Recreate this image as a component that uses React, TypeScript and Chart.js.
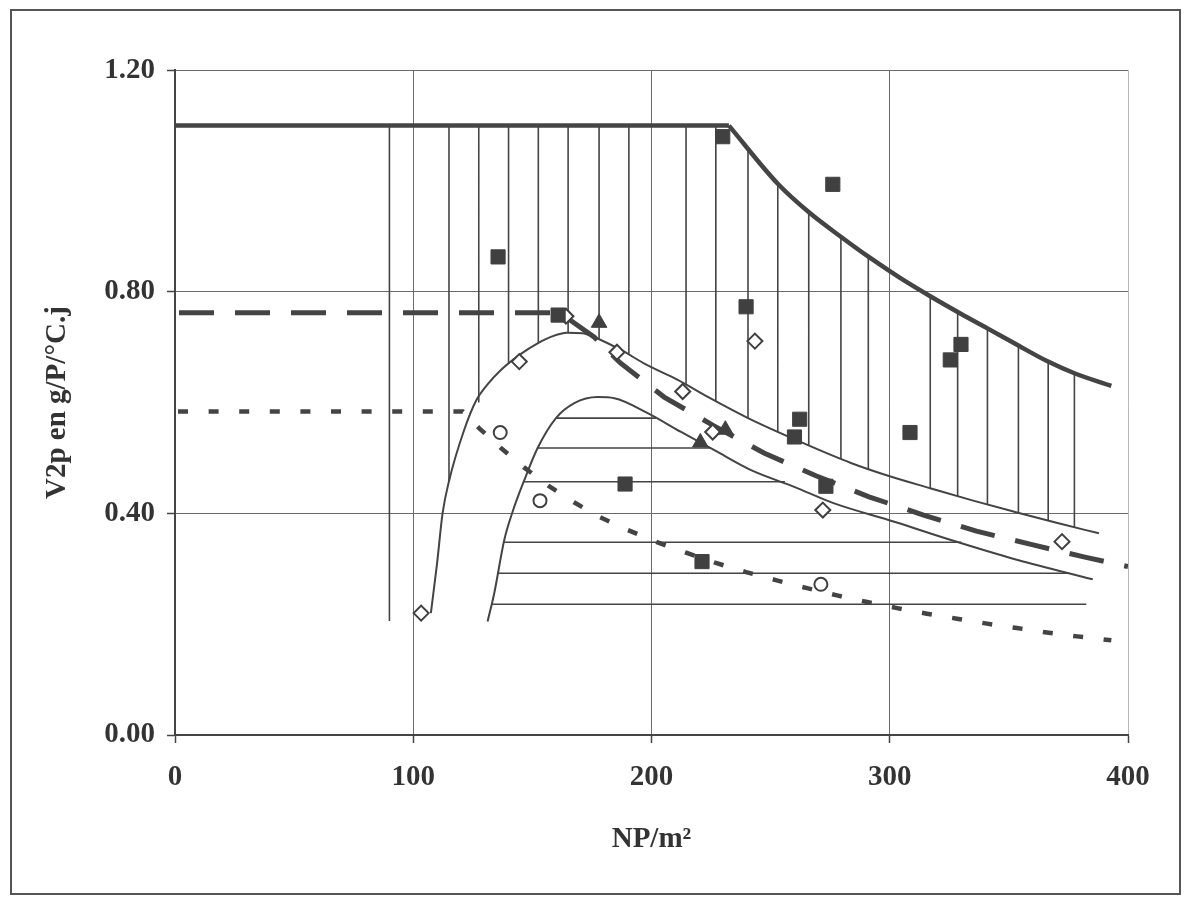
import React, { useEffect, useRef } from 'react';
import { Chart, registerables } from 'chart.js';

Chart.register(...registerables);

// ---- axes ----
const xTickValues = [0, 100, 200, 300, 400];
const xTickLabels = ['0', '100', '200', '300', '400'];
const yTickValues = [0, 0.4, 0.8, 1.2];
const yTickLabels = ['0.00', '0.40', '0.80', '1.20'];
const xTitle = 'NP/m²';
const yTitle = 'V2p en g/P/°C.j';

// ---- upper envelope (thick solid): plateau then decline ----
const plateauX = [0, 232.5];
const plateauY = [1.1, 1.1];
const declineX = [232.5, 253, 266.2, 279.6, 291.5, 304, 317, 330, 341, 354, 366, 377.5, 393];
const declineY = [1.1, 0.995, 0.943, 0.899, 0.862, 0.826, 0.792, 0.76, 0.734, 0.703, 0.675, 0.653, 0.63];

// ---- outer bell curve (thin solid) ----
const outerX = [107.4, 110, 112.3, 115.1, 121.4, 126.3, 131, 136.8, 145.2, 152.2, 158, 164.5, 171, 176, 187.2, 198, 211, 225, 240.5, 262, 283.7, 300, 317.3, 335, 352.2, 370, 387.8];
const outerY = [0.22, 0.31, 0.4, 0.46, 0.551, 0.603, 0.632, 0.659, 0.688, 0.707, 0.719, 0.726, 0.725, 0.718, 0.695, 0.668, 0.641, 0.607, 0.572, 0.53, 0.491, 0.467, 0.445, 0.423, 0.403, 0.383, 0.364];

// ---- inner bell curve (thin solid) ----
const innerX = [131.2, 134, 138.2, 141.7, 146.6, 152.2, 159.9, 167.6, 177.4, 184.4, 198.4, 212.4, 226.4, 241.8, 259.9, 276.7, 301.9, 325.7, 353.7, 385.2];
const innerY = [0.205, 0.256, 0.352, 0.403, 0.46, 0.518, 0.572, 0.599, 0.61, 0.608, 0.581, 0.547, 0.514, 0.478, 0.448, 0.418, 0.385, 0.352, 0.316, 0.281];

// ---- long-dash curve ----
const longDashX = [0, 161.5, 176, 186.8, 205.3, 226.2, 247.2, 269, 291.3, 314.2, 336.4, 359.3, 381.9, 400];
const longDashY = [0.762, 0.762, 0.718, 0.672, 0.61, 0.558, 0.509, 0.468, 0.43, 0.397, 0.368, 0.344, 0.321, 0.304];

// ---- short-dash curve ----
const shortDashX = [0, 120.8, 127.6, 136.8, 146.5, 157, 167.5, 178, 190.1, 202.3, 214.5, 226.7, 239.7, 251.8, 265.3, 277.9, 290.5, 303.1, 315.6, 328.2, 340.8, 353.4, 366, 378.6, 393];
const shortDashY = [0.584, 0.584, 0.554, 0.518, 0.483, 0.449, 0.42, 0.394, 0.37, 0.348, 0.329, 0.311, 0.294, 0.28, 0.265, 0.252, 0.24, 0.229, 0.219, 0.21, 0.201, 0.193, 0.185, 0.178, 0.171];

// ---- vertical hatching ----
const vHatchX = [90, 115, 127.5, 140, 152.5, 165, 178, 190.5, 214.5, 227, 240.5, 253, 266, 279.5, 291, 317, 328.5, 341, 354, 366.5, 377.5];
const vHatchTop = [1.1, 1.1, 1.1, 1.1, 1.1, 1.1, 1.1, 1.1, 1.1, 1.1, 1.058, 0.995, 0.943, 0.899, 0.862, 0.792, 0.763, 0.734, 0.703, 0.674, 0.653];
const vHatchBottom = [0.206, 0.458, 0.6, 0.672, 0.708, 0.726, 0.714, 0.688, 0.633, 0.603, 0.572, 0.548, 0.523, 0.498, 0.48, 0.445, 0.431, 0.416, 0.401, 0.387, 0.375];

// ---- horizontal hatching ----
const hHatchY = [0.572, 0.518, 0.457, 0.348, 0.292, 0.236];
const hHatchStart = [160, 152.2, 146.3, 138.2, 135.6, 133];
const hHatchEnd = [202, 224.5, 256, 330, 375, 382.5];

// ---- observations ----
const squareX = [135.6, 160.8, 188.9, 221.2, 229.9, 239.7, 260, 262.2, 273.2, 276.1, 308.5, 325.4, 329.9];
const squareY = [0.863, 0.758, 0.453, 0.313, 1.08, 0.773, 0.538, 0.57, 0.449, 0.994, 0.546, 0.677, 0.705];
const diamondX = [103.3, 144.5, 164.1, 185.5, 213.1, 225.7, 243.4, 271.9, 372.3];
const diamondY = [0.22, 0.674, 0.756, 0.691, 0.62, 0.547, 0.711, 0.406, 0.349];
const circleX = [136.5, 153.2, 271.1];
const circleY = [0.546, 0.423, 0.272];
const triangleX = [178, 220.5, 231];
const triangleY = [0.744, 0.528, 0.551];

const INK = '#444444';
const TEXT = '#333333';
const FONT = { family: '"Liberation Serif", "Times New Roman", serif', size: 29, weight: 'bold' as const };

const pts = (xs: number[], ys: number[]) => xs.map((x, i) => ({ x, y: ys[i] }));

const vHatchData = vHatchX.flatMap((x, i) => [
  { x, y: vHatchTop[i] },
  { x, y: vHatchBottom[i] },
  { x, y: null as any },
]);
const hHatchData = hHatchY.flatMap((y, i) => [
  { x: hHatchStart[i], y },
  { x: hHatchEnd[i], y },
  { x: hHatchEnd[i], y: null as any },
]);

const framePlugin = {
  id: 'frame',
  beforeDraw(chart: any) {
    const ctx = chart.ctx;
    ctx.save();
    ctx.fillStyle = '#ffffff';
    ctx.fillRect(0, 0, chart.width, chart.height);
    ctx.strokeStyle = '#555555';
    ctx.lineWidth = 2;
    ctx.strokeRect(11, 10, 1169, 884);
    ctx.restore();
  },
};

const lineDs = (data: any[], extra: any) => ({
  data,
  showLine: true,
  pointRadius: 0,
  borderColor: INK,
  backgroundColor: INK,
  fill: false,
  ...extra,
});

export default function App() {
  const ref = useRef<HTMLCanvasElement>(null);

  useEffect(() => {
    if (!ref.current) return;
    const chart = new Chart(ref.current, {
      type: 'scatter',
      data: {
        datasets: [
          {
            data: pts(squareX, squareY),
            pointStyle: 'rect',
            pointRadius: 10,
            backgroundColor: '#404040',
            borderColor: '#404040',
            borderWidth: 1,
            showLine: false,
          },
          {
            data: pts(triangleX, triangleY),
            pointStyle: 'triangle',
            pointRadius: 9,
            backgroundColor: '#404040',
            borderColor: '#404040',
            borderWidth: 1,
            showLine: false,
          },
          {
            data: pts(diamondX, diamondY),
            pointStyle: 'rectRot',
            pointRadius: 7.5,
            backgroundColor: '#ffffff',
            borderColor: '#404040',
            borderWidth: 2,
            showLine: false,
          },
          {
            data: pts(circleX, circleY),
            pointStyle: 'circle',
            pointRadius: 6.5,
            backgroundColor: '#ffffff',
            borderColor: '#404040',
            borderWidth: 2,
            showLine: false,
          },
          lineDs(pts(plateauX, plateauY), { borderWidth: 4.5, tension: 0 }),
          lineDs(pts(declineX, declineY), { borderWidth: 4.5, cubicInterpolationMode: 'monotone' }),
          lineDs(pts(longDashX, longDashY), { borderWidth: 5, tension: 0, borderDash: [35, 21], borderDashOffset: -4 }),
          lineDs(pts(shortDashX, shortDashY), { borderWidth: 4.5, tension: 0, borderDash: [10, 20.6], borderDashOffset: -3 }),
          lineDs(pts(outerX, outerY), { borderWidth: 2, cubicInterpolationMode: 'monotone' }),
          lineDs(pts(innerX, innerY), { borderWidth: 2, cubicInterpolationMode: 'monotone' }),
          lineDs(vHatchData, { borderWidth: 1.6, tension: 0, spanGaps: false }),
          lineDs(hHatchData, { borderWidth: 1.6, tension: 0, spanGaps: false }),
        ],
      },
      options: {
        responsive: false,
        animation: false,
        devicePixelRatio: 1,
        events: [],
        layout: { padding: { left: 0, right: 56, top: 70.2, bottom: 0 } },
        plugins: {
          legend: { display: false },
          tooltip: { enabled: false },
        },
        scales: {
          x: {
            type: 'linear',
            min: 0,
            max: 400,
            afterBuildTicks: (s: any) => {
              s.ticks = xTickValues.map((v) => ({ value: v }));
            },
            afterFit: (s: any) => {
              s.height = 162;
            },
            ticks: {
              callback: (v: any) => xTickLabels[xTickValues.indexOf(Number(v))],
              font: FONT,
              color: TEXT,
              padding: 17,
              maxRotation: 0,
            },
            grid: {
              color: (c: any) => (c.tick && c.tick.value === 400 ? '#b8b8b8' : '#6a6a6a'),
              lineWidth: 1,
              tickLength: 8,
              tickColor: INK,
              tickWidth: 1.5,
            },
            border: { color: INK, width: 2 },
            title: {
              display: true,
              text: xTitle,
              font: FONT,
              color: TEXT,
              padding: { top: 0, bottom: 40 },
            },
          },
          y: {
            type: 'linear',
            min: 0,
            max: 1.2,
            afterBuildTicks: (s: any) => {
              s.ticks = yTickValues.map((v) => ({ value: v }));
            },
            afterFit: (s: any) => {
              s.width = 175;
            },
            ticks: {
              callback: (v: any) => yTickLabels[yTickValues.indexOf(Number(v))],
              font: FONT,
              color: TEXT,
              padding: 12,
            },
            grid: {
              color: '#6a6a6a',
              lineWidth: 1,
              tickLength: 8,
              tickColor: INK,
              tickWidth: 1.5,
            },
            border: { color: INK, width: 2 },
            title: {
              display: true,
              text: yTitle,
              font: FONT,
              color: TEXT,
              padding: { top: 40, bottom: 0 },
            },
          },
        },
      },
      plugins: [framePlugin],
    } as any);
    return () => chart.destroy();
  }, []);

  return (
    <div style={{ position: 'fixed', left: 0, top: 0, width: 1184, height: 897, background: '#ffffff' }}>
      <canvas ref={ref} width={1184} height={897} style={{ display: 'block', width: 1184, height: 897 }} />
    </div>
  );
}
